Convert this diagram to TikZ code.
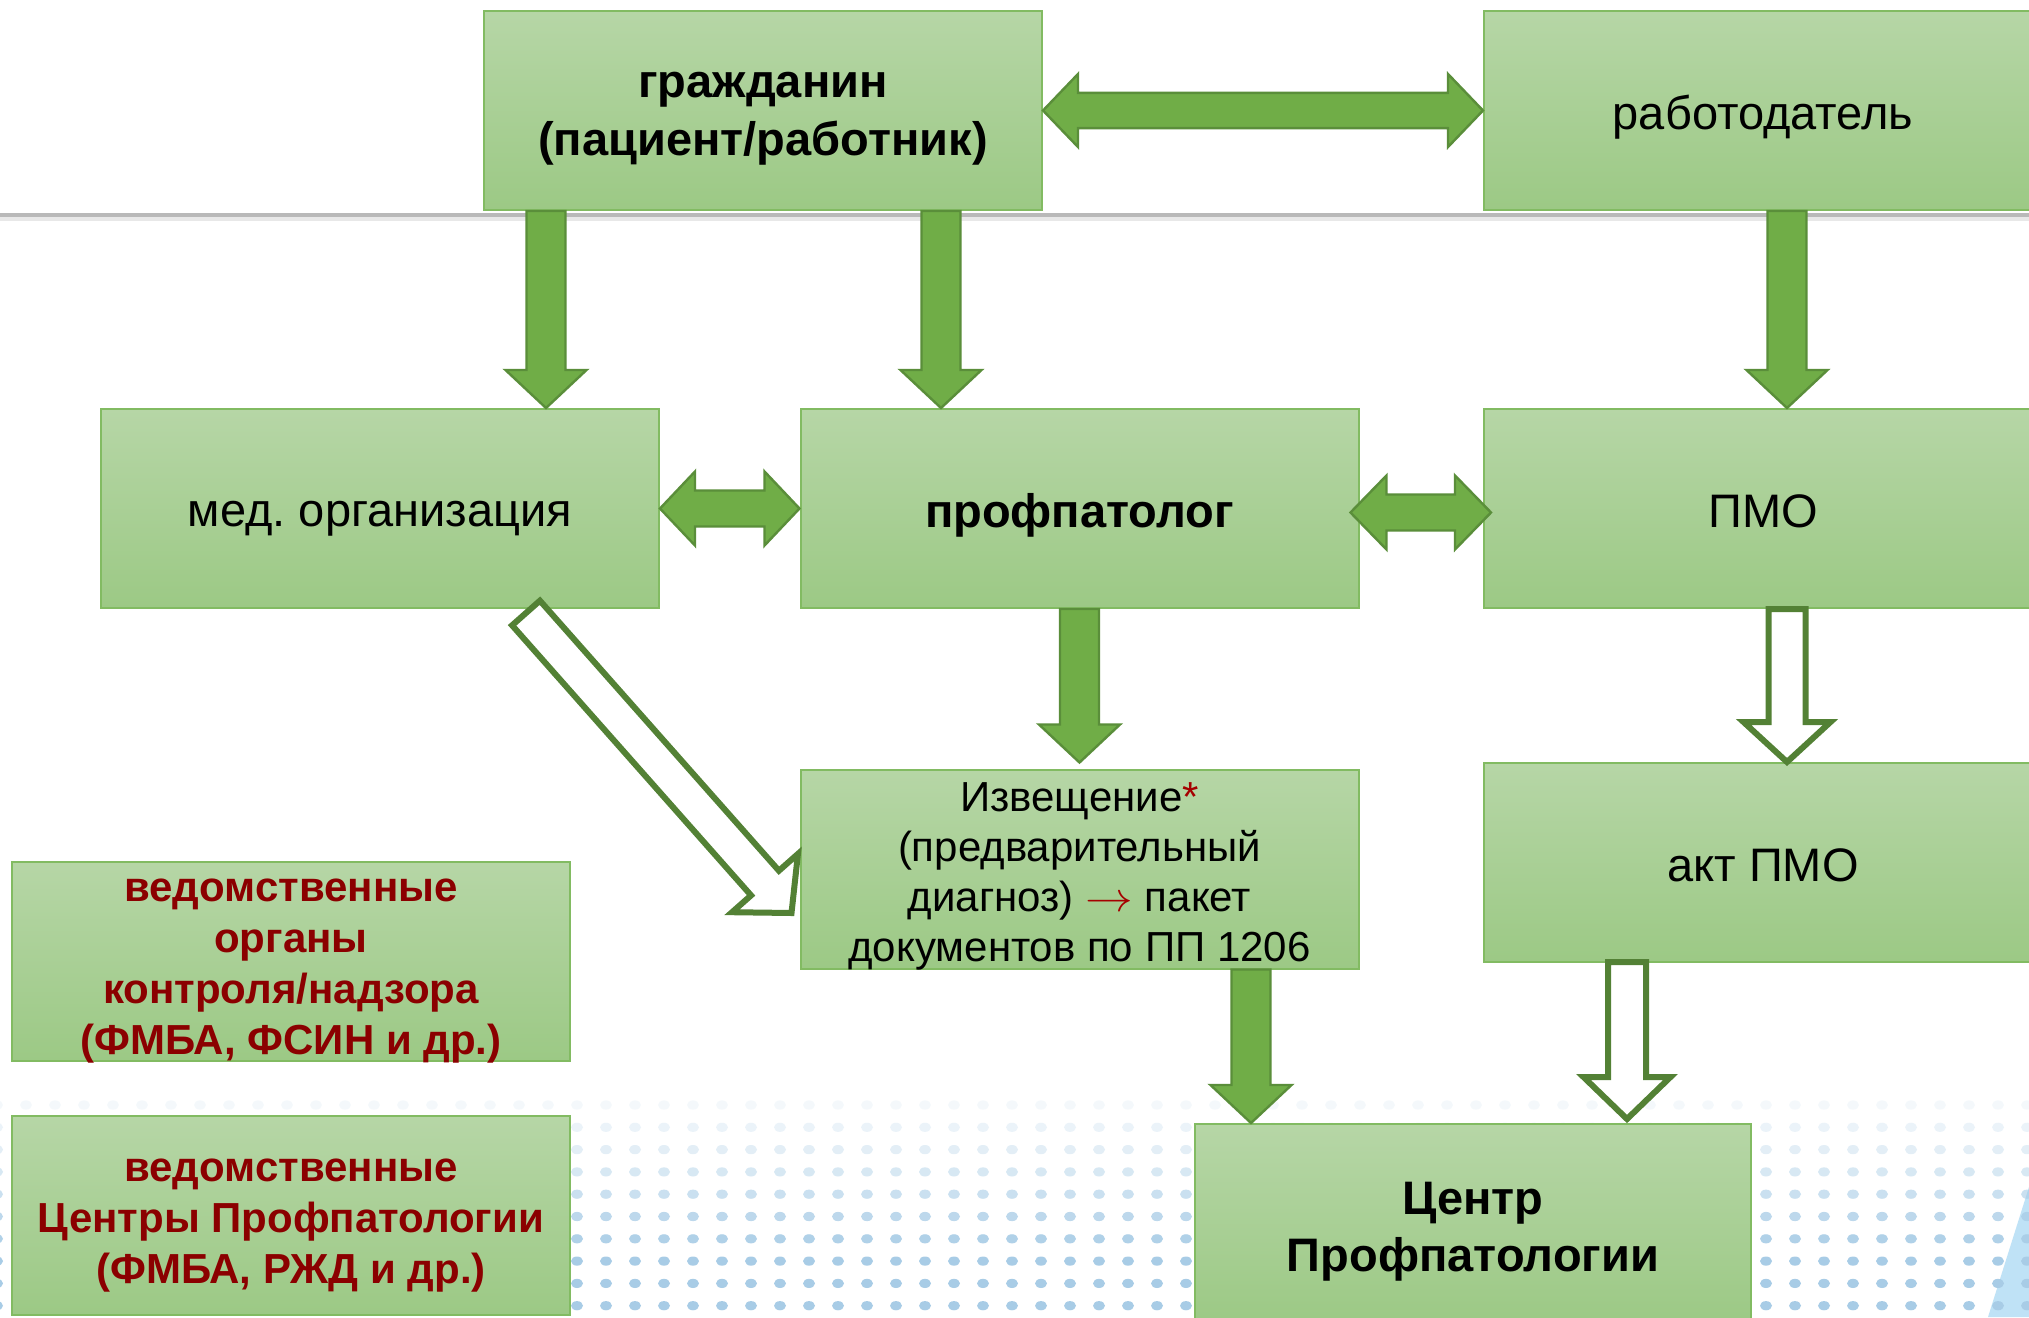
\documentclass[tikz,border=0pt]{standalone}
\usepackage{fontspec}
\setmainfont{Liberation Sans}
\usetikzlibrary{calc}
\frenchspacing
\definecolor{boxtop}{HTML}{B6D6A6}
\definecolor{boxbot}{HTML}{9CC985}
\definecolor{boxline}{HTML}{82BB62}
\definecolor{arrfill}{HTML}{70AD47}
\definecolor{arrline}{HTML}{5A8E3A}
\definecolor{hollowline}{HTML}{538135}
\definecolor{darkred}{HTML}{8B0000}
\definecolor{starred}{HTML}{A50000}
\definecolor{dotblue}{HTML}{A8CCE6}
\definecolor{swoosh}{HTML}{BFE2F6}
\newcommand{\singlearrow}[6]{%
  \coordinate (baA) at #2;
  \coordinate (baB) at #3;
  \coordinate (baH) at ($(baB)!#6!(baA)$);
  \draw[#1] ($(baA)!#4!90:(baB)$) -- ($(baH)!#4!90:(baB)$) -- ($(baH)!#5!90:(baB)$) -- (baB)
    -- ($(baH)!#5!-90:(baB)$) -- ($(baH)!#4!-90:(baB)$) -- ($(baA)!#4!-90:(baB)$) -- cycle;
}
\newcommand{\doublearrow}[6]{%
  \coordinate (daA) at #2;
  \coordinate (daB) at #3;
  \coordinate (daHA) at ($(daA)!#6!(daB)$);
  \coordinate (daHB) at ($(daB)!#6!(daA)$);
  \draw[#1] (daA) -- ($(daHA)!#5!90:(daB)$) -- ($(daHA)!#4!90:(daB)$) -- ($(daHB)!#4!-90:(daA)$)
    -- ($(daHB)!#5!-90:(daA)$) -- (daB) -- ($(daHB)!#5!90:(daA)$) -- ($(daHB)!#4!90:(daA)$)
    -- ($(daHA)!#4!-90:(daB)$) -- ($(daHA)!#5!-90:(daB)$) -- cycle;
}
\tikzset{
  box/.style={rectangle, draw=boxline, line width=1pt, top color=boxtop, bottom color=boxbot,
    minimum width=279pt, minimum height=99.5pt, inner sep=0pt},
  txt/.style={inner sep=0pt, align=center, font=\fontsize{23.5pt}{29pt}\selectfont},
  boldtxt/.style={txt, font=\fontsize{23.5pt}{29pt}\selectfont\bfseries},
  smalltxt/.style={txt, font=\fontsize{21pt}{25pt}\selectfont},
  redtxt/.style={txt, font=\fontsize{21pt}{25.5pt}\selectfont\bfseries, text=darkred},
  farrow/.style={fill=arrfill, draw=arrline, line width=1.2pt, line join=miter},
  harrow/.style={fill=white, draw=hollowline, line width=3pt, line join=miter, miter limit=10},
}
\begin{document}
\begin{tikzpicture}[x=0.5pt, y=-0.5pt]
\useasboundingbox (0,0) rectangle (2029,1317);
\clip (0,0) rectangle (2029,1317);
\fill[white] (0,0) rectangle (2029,1317);
% swoosh
\fill[swoosh] (2029,1187) -- (1988,1317) -- (2029,1317) -- cycle;
% dot pattern
\foreach \j/\op in {0/0.12,1/0.22,2/0.32,3/0.45,4/0.6,5/0.75,6/0.9,7/1,8/1,9/1} {
  \foreach \k in {0,...,70} {
    \fill[dotblue, opacity=\op] ({-3+29*\k},{1105+22.3*\j}) ellipse [x radius=3pt, y radius=2.3pt];
  }
}
% gray rule
\draw[line width=2pt, color=gray!55] (0,214.5) -- (2029,214.5);
\draw[line width=2pt, color=gray!18] (0,218.5) -- (2029,218.5);
% boxes
\node[box] (g) at (763,110.5) {};
\node[box] (r) at (1763,110.5) {};
\node[box] (m) at (380,508.5) {};
\node[box] (p) at (1079.5,508.5) {};
\node[box] (pmo) at (1763,508.5) {};
\node[box] (iz) at (1079.5,869) {};
\node[box] (akt) at (1763,862.5) {};
\node[box] (v1) at (291,961) {};
\node[box] (v2) at (291,1215.5) {};
\node[box, minimum width=278pt] (c) at (1473,1223.5) {};
% texts
\node[boldtxt, yshift=-4.25pt] (gt) at (g) {гражданин\\(пациент/работник)};
\node[txt, yshift=-3.25pt] (rt) at (r) {работодатель};
\node[txt, yshift=-5pt] (mt) at (m) {мед. организация};
\node[boldtxt, yshift=-3.25pt] (pt) at (p) {профпатолог};
\node[txt, yshift=-1.3pt] (pmot) at (pmo) {ПМО};
\node[smalltxt, yshift=-3.5pt] (izt) at (iz) {Извещение\textcolor{starred}{*}\\(предварительный\\диагноз) \textcolor{starred}{\scalebox{1.15}[1]{$\rightarrow$}} пакет\\документов по ПП 1206};
\node[txt, yshift=-1.3pt] (aktt) at (akt) {акт ПМО};
\node[redtxt, yshift=-5pt] (v1t) at (v1) {ведомственные\\органы\\контроля/надзора\\(ФМБА, ФСИН и др.)};
\node[redtxt, yshift=-5pt] (v2t) at (v2) {ведомственные\\Центры Профпатологии\\(ФМБА, РЖД и др.)};
\node[boldtxt, font=\fontsize{23.5pt}{28.5pt}\selectfont\bfseries, yshift=-4pt] (ct) at (c) {Центр\\Профпатологии};
% filled single arrows
\singlearrow{farrow}{(g.south -| 546,0)}{(m.north -| 546,0)}{9.75pt}{20.25pt}{19pt}
\singlearrow{farrow}{(g.south -| 941,0)}{(p.north -| 941,0)}{9.75pt}{20.25pt}{19pt}
\singlearrow{farrow}{(r.south -| 1787,0)}{(pmo.north -| 1787,0)}{9.75pt}{20.25pt}{19pt}
\singlearrow{farrow}{(p.south)}{($(iz.north)+(0,-6)$)}{9.75pt}{20.25pt}{19pt}
\singlearrow{farrow}{(iz.south -| 1251,0)}{(c.north -| 1251,0)}{9.75pt}{20.25pt}{19pt}
% hollow arrows
\singlearrow{harrow}{(pmo.south -| 1787,0)}{(akt.north -| 1787,0)}{9.25pt}{21.75pt}{20pt}
\singlearrow{harrow}{($(akt.south -| 1627,0)+(0,-1)$)}{($(c.north -| 1627,0)+(0,-4)$)}{9.5pt}{21.75pt}{21pt}
\singlearrow{harrow}{($(m.south -| 526,0)+(0,4)$)}{($(iz.west)+(-8,44)$)}{9.3pt}{22pt}{20pt}
% double arrows
\doublearrow{farrow}{(g.east)}{(r.west)}{8.8pt}{18.25pt}{17.5pt}
\doublearrow{farrow}{(m.east)}{(p.west)}{9pt}{18.5pt}{17.5pt}
\doublearrow{farrow}{($(p.east)+(-9,4)$)}{($(pmo.west)+(8,4)$)}{9pt}{18.5pt}{18pt}
\end{tikzpicture}
\end{document}
